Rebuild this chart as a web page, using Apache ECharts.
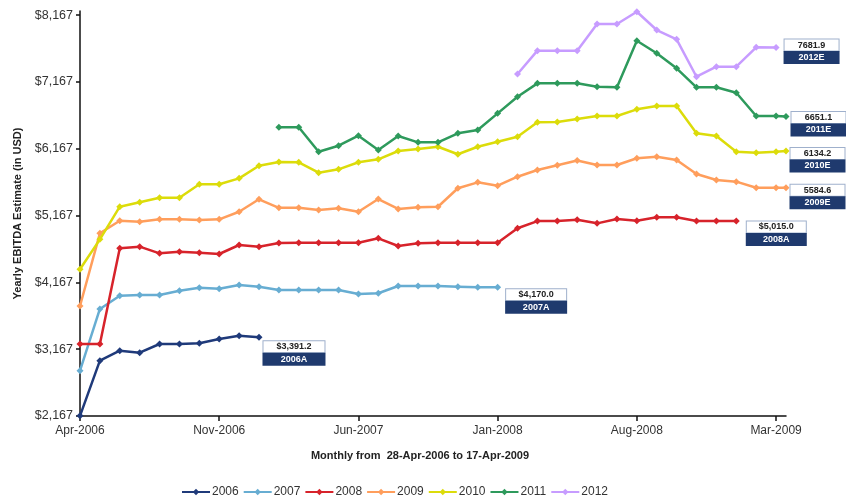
<!DOCTYPE html>
<html>
<head>
<meta charset="utf-8">
<script src="https://cdn.jsdelivr.net/npm/echarts@6/dist/echarts.min.js"></script>
<style>
html,body{margin:0;padding:0;background:#fff;}
#chart{width:846px;height:497px;}
</style>
</head>
<body>
<div id="chart"></div>
<script>
// Month positions: 0 = 28-Apr-2006 ... 35 = 28-Mar-2009, last = 17-Apr-2009
const monthPos = [0,1,2,3,4,5,6,7,8,9,10,11,12,13,14,15,16,17,18,19,20,21,22,23,24,25,26,27,28,29,30,31,32,33,34,35,35.5];
const tickMonths = [0,7,14,21,28,35];
const tickLabels = ['Apr-2006','Nov-2006','Jun-2007','Jan-2008','Aug-2008','Mar-2009'];
const yTicks = [2167,3167,4167,5167,6167,7167,8167];

const seriesNames = ['2006','2007','2008','2009','2010','2011','2012'];
const seriesStart = [0,0,0,0,0,10,22];

const s2006 = [2170,2995,3145,3115,3245,3245,3255,3320,3369,3345];
const s2007 = [2845,3769,3968,3978,3978,4043,4088,4073,4128,4103,4053,4053,4053,4053,3993,4004,4113,4113,4113,4103,4093,4093];
const s2008 = [3245,3245,4677,4702,4602,4627,4612,4592,4727,4702,4757,4762,4762,4762,4762,4827,4712,4752,4762,4762,4762,4762,4977,5085,5085,5105,5051,5116,5091,5141,5141,5086,5086,5086];
const s2009 = [3814,4902,5091,5076,5111,5111,5101,5111,5225,5411,5284,5284,5251,5276,5225,5415,5266,5291,5300,5576,5665,5615,5749,5850,5920,5992,5924,5924,6025,6049,5999,5790,5700,5675,5585,5585,5584.6];
const s2010 = [4363,4812,5300,5366,5435,5435,5636,5636,5725,5914,5969,5965,5809,5860,5965,6010,6134,6164,6198,6085,6198,6273,6348,6564,6568,6613,6658,6658,6758,6808,6808,6399,6359,6124,6109,6124,6134.2];
const s2011 = [6489,6489,6124,6213,6363,6149,6358,6264,6264,6399,6448,6698,6947,7147,7147,7147,7097,7088,7785,7597,7372,7088,7088,7007,6658,6658,6651.1];
const s2012 = [7287,7636,7636,7636,8035,8035,8219,7945,7806,7246,7396,7396,7686,7681.9];

const endValues = ['$3,391.2','$4,170.0','$5,015.0','5584.6','6134.2','6651.1','7681.9'];
const endTags = ['2006A','2007A','2008A','2009E','2010E','2011E','2012E'];

// styling (not data)
const colors = ['#1F3A7A','#67ADD2','#D7232B','#FF9E5C','#DCDC0A','#2E9A5C','#C79CFF'];
const labelOffsets = [[0,16],[4,14],[6,12.5],[0,9],[0,9],[1,7.5],[4,4]];
const labelWidths = [61,60,59,54,54,54,54];

const allValues = [s2006,s2007,s2008,s2009,s2010,s2011,s2012];
const FONT = 'Liberation Sans, Arial, sans-serif';

const series = allValues.map((vals, si) => {
  const data = vals.map((v, k) => [monthPos[seriesStart[si] + k], v]);
  const last = data.length - 1;
  const items = data.map((d, k) => {
    if (k !== last) return d;
    return {
      value: d,
      label: {
        show: true,
        position: 'right',
        distance: 0,
        offset: labelOffsets[si],
        formatter: '{v|' + endValues[si] + '}\n{t|' + endTags[si] + '}',
        rich: {
          v: {width: labelWidths[si], height: 11, lineHeight: 12, align: 'center', backgroundColor: '#fff',
              borderColor: '#9FB0CC', borderWidth: 1, fontWeight: 'bold', fontSize: 9, color: '#222', fontFamily: FONT},
          t: {width: labelWidths[si] + 2, height: 13, lineHeight: 13, align: 'center', backgroundColor: '#1F3A6E',
              color: '#fff', fontWeight: 'bold', fontSize: 9, fontFamily: FONT}
        }
      }
    };
  });
  return {
    name: seriesNames[si],
    type: 'line',
    data: items,
    symbol: 'diamond',
    symbolSize: 7,
    showAllSymbol: true,
    lineStyle: {width: 2.5, color: colors[si]},
    itemStyle: {color: colors[si]},
    z: 2 + si
  };
});

const chart = echarts.init(document.getElementById('chart'), null, {renderer: 'canvas'});
chart.setOption({
  animation: false,
  backgroundColor: '#fff',
  color: colors,
  grid: {left: 80, right: 60, top: 11, bottom: 81, containLabel: false},
  xAxis: {
    type: 'value',
    min: 0,
    max: 35.5,
    name: 'Monthly from  28-Apr-2006 to 17-Apr-2009',
    nameLocation: 'middle',
    nameGap: 34,
    nameTextStyle: {fontFamily: FONT, fontWeight: 'bold', fontSize: 11, color: '#222', padding: [0, 26, 0, 0]},
    axisLine: {lineStyle: {color: '#111', width: 1.5}},
    axisTick: {show: true, customValues: tickMonths, length: 5, lineStyle: {color: '#111', width: 1.5}},
    axisLabel: {
      customValues: tickMonths,
      formatter: v => tickLabels[tickMonths.indexOf(v)] || '',
      fontFamily: FONT, fontSize: 12, color: '#333', margin: 9
    },
    splitLine: {show: false}
  },
  yAxis: {
    type: 'value',
    min: 2167,
    max: 8230,
    name: 'Yearly EBITDA Estimate (in USD)',
    nameLocation: 'middle',
    nameGap: 57,
    nameTextStyle: {fontFamily: FONT, fontWeight: 'bold', fontSize: 11, color: '#222'},
    axisLine: {show: true, lineStyle: {color: '#111', width: 1.5}},
    axisTick: {show: true, customValues: yTicks, length: 4, lineStyle: {color: '#111', width: 1.5}},
    axisLabel: {
      customValues: yTicks,
      formatter: v => '$' + v.toLocaleString('en-US'),
      fontFamily: FONT, fontSize: 12.5, color: '#333', margin: 7
    },
    splitLine: {show: false}
  },
  legend: {
    data: seriesNames,
    left: 176,
    top: 481,
    itemWidth: 28,
    itemHeight: 8,
    itemGap: 4,
    textStyle: {fontFamily: FONT, fontSize: 12, color: '#333', padding: [0, 0, 0, -3]}
  },
  series: series
});
</script>
</body>
</html>
